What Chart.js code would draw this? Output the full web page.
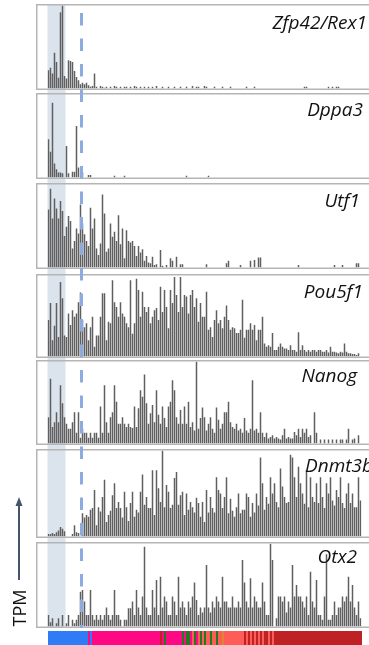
<!DOCTYPE html>
<html>
<head>
<meta charset="utf-8">
<script src="https://cdn.jsdelivr.net/npm/chart.js@4"></script>
<style>
  html, body { margin: 0; padding: 0; background: #fff; }
  #page { position: relative; width: 369px; height: 645px; overflow: hidden; }
  #page canvas { position: absolute; left: 0; }
  #page svg { position: absolute; left: 0; top: 0; }
</style>
</head>
<body>
<div id="page"></div>
<script>
// Marker genes, top to bottom
const genes = ['Zfp42/Rex1', 'Dppa3', 'Utf1', 'Pou5f1', 'Nanog', 'Dnmt3b', 'Otx2'];

// Expression per cell (TPM, scaled to each panel's maximum = 100)
const zfp42 = [
  22,25,18,43,32,13,92,100,15,12,
  34,33,32,21,14,10,5,7,5,7,
  4,2,3,18,2,0,3,2,1,2,
  0,2,0,3,2,0,2,0,2,2,
  0,2,0,3,2,0,2,0,2,0,
  2,0,2,0,3,0,0,2,0,0,
  2,0,0,2,0,0,2,0,0,2,
  0,0,3,0,2,2,0,0,3,2,
  0,0,0,2,0,0,0,2,0,0,
  0,2,0,0,0,0,0,0,0,2,
  0,0,0,2,0,0,0,0,0,0,
  0,0,0,0,0,0,0,0,0,0,
  0,0,0,0,0,0,0,0,2,2,
  0,0,0,0,0,0,0,0,0,0,
  2,0,2,0,2,2,0,0,0,0,
  0,0,0,0,0,0,0
];
const dppa3 = [
  46,31,90,17,10,6,6,5,0,38,
  5,0,7,7,62,12,0,6,0,0,
  3,3,0,0,0,0,0,0,0,0,
  0,0,0,2,0,0,0,0,2,0,
  0,0,0,0,0,0,0,0,0,0,
  0,0,0,0,0,0,0,0,0,0,
  0,0,0,0,0,0,0,0,0,2,
  0,0,0,0,0,0,0,0,0,0,
  2,0,0,0,0,0,0,0,0,0,
  0,0,0,0,0,0,0,0,0,0,
  0,0,0,0,0,0,0,0,0,0,
  0,0,0,0,0,0,0,0,0,0,
  0,0,0,0,0,0,0,0,0,0,
  0,0,0,0,0,0,0,0,0,0,
  0,0,0,0,0,0,0,0,0,0,
  0,0,0,0,0,0,0
];
const utf1 = [
  70,95,59,83,71,59,80,68,38,49,
  62,56,23,32,47,41,76,53,40,32,
  26,72,47,59,23,15,29,88,65,19,
  23,53,37,43,32,63,28,47,11,45,
  32,30,32,26,14,26,18,22,8,14,
  6,5,13,3,4,0,21,2,0,3,
  0,11,8,0,13,0,4,4,0,0,
  0,0,0,0,0,0,0,0,0,4,
  0,0,0,0,0,0,0,0,0,5,
  8,0,0,0,0,0,3,0,0,0,
  0,8,0,9,0,12,12,0,0,0,
  0,0,0,0,0,0,0,0,0,0,
  0,0,0,0,0,3,0,0,0,0,
  0,0,0,0,0,0,0,0,0,0,
  0,0,0,3,0,0,0,3,0,0,
  0,0,0,0,5,5,0
];
const pou5f1 = [
  45,66,20,38,66,24,92,72,26,24,
  53,39,57,49,53,67,79,45,36,41,
  20,36,49,12,26,26,49,78,78,20,
  43,41,94,67,61,49,67,53,49,41,
  36,94,28,41,96,82,49,80,61,55,
  61,41,49,57,60,45,86,55,82,61,
  35,82,66,98,76,55,98,61,76,74,
  53,76,82,61,72,43,66,49,49,80,
  33,36,24,45,57,41,45,35,49,63,
  45,33,36,35,29,29,33,70,23,33,
  33,41,33,39,20,33,33,49,16,12,
  14,12,29,8,8,12,16,12,10,10,
  8,14,8,8,6,30,8,14,8,6,
  8,6,8,8,6,8,8,6,6,8,
  5,12,6,6,5,4,6,5,16,6,
  4,4,3,3,2,4,0
];
const nanog = [
  32,79,20,26,38,26,71,49,32,24,
  18,18,26,38,13,38,7,18,13,13,
  7,13,7,13,13,7,45,13,71,26,
  13,32,38,71,51,24,24,32,24,20,
  24,20,19,45,20,43,65,57,84,49,
  24,37,47,26,65,35,24,45,31,20,
  45,51,77,65,32,24,41,24,45,24,
  51,20,26,16,100,18,31,44,32,16,
  24,32,18,13,44,29,18,24,38,38,
  51,26,20,18,24,16,18,13,31,16,
  13,18,77,16,18,13,38,13,8,13,
  6,8,10,6,8,6,5,10,18,6,
  8,6,6,14,10,18,8,18,13,18,
  8,10,0,38,13,0,5,0,5,0,
  5,0,5,0,5,0,5,5,0,5,
  18,0,5,6,0,10,0
];
const dnmt3b = [
  3,3,4,3,5,7,11,9,6,0,
  0,0,3,13,5,4,0,27,22,25,
  23,31,33,54,13,34,29,46,66,17,
  25,30,48,62,33,40,33,22,52,34,
  18,39,52,23,31,28,52,72,37,46,
  33,33,77,25,77,56,40,100,34,60,
  52,33,37,68,75,37,48,52,25,50,
  31,40,34,28,45,39,23,40,17,54,
  28,46,33,28,69,54,50,33,46,69,
  27,44,30,23,34,50,27,31,31,50,
  46,23,39,28,50,36,92,62,31,46,
  38,69,50,62,40,34,79,58,46,39,
  40,95,92,69,46,81,62,50,38,77,
  34,69,46,40,62,39,69,46,33,62,
  50,69,42,36,54,46,69,39,33,50,
  62,39,50,34,34,69,42
];
const otx2 = [
  14,5,10,0,4,10,0,14,0,4,
  14,0,8,4,8,14,42,44,30,14,
  14,44,14,8,14,8,14,8,14,23,
  14,8,14,44,14,14,8,0,8,8,
  22,22,30,14,44,23,14,36,96,23,
  14,14,44,23,56,14,60,23,36,30,
  14,14,36,30,14,60,23,30,23,14,
  30,23,36,53,32,14,23,17,23,74,
  23,17,30,23,36,30,23,60,30,30,
  23,23,36,23,23,30,23,80,53,30,
  23,58,23,36,30,23,23,53,30,14,
  14,100,80,0,10,36,36,30,36,17,
  30,23,74,36,50,36,36,30,23,36,
  14,66,30,23,56,14,14,8,36,87,
  8,8,14,30,14,23,23,36,30,36,
  60,30,50,23,14,30,10
];

// Cell population of every cell (index into typeColors)
const cellType = [
  0,0,0,0,0,0,0,0,0,0,
  0,0,0,0,0,0,0,0,0,0,
  1,0,1,1,1,1,1,1,1,1,
  1,1,1,1,1,1,1,1,1,1,
  1,1,1,1,1,1,1,1,1,1,
  1,1,1,1,1,1,4,1,2,1,
  1,1,1,1,1,1,1,2,1,2,
  2,1,3,2,1,3,2,3,2,3,
  3,2,3,3,2,3,3,5,3,3,
  3,3,3,3,3,3,3,3,4,3,
  4,3,4,3,4,3,4,3,4,4,
  3,4,3,4,4,4,4,4,4,4,
  4,4,4,4,4,4,4,4,4,4,
  4,4,4,4,4,4,4,4,4,4,
  4,4,4,4,4,4,4,4,4,4,
  4,4,4,4,4,4,4
];
const typeColors = ['#2f7cf6', '#fe0884', '#1f7a22', '#fe5d57', '#bf2225', '#e0862c'];

const series = [zfp42, dppa3, utf1, pou5f1, nanog, dnmt3b, otx2];
const cells = cellType.map((t, i) => 'cell ' + (i + 1));

// Shaded early population spans cells [0, bandEnd); dashed divider sits before cell dashAt
const bandEnd = 9;
const dashAt = 17;

// Page layout (px)
const panelTop = [4, 93, 183, 274, 360, 449, 542];
const panelBottom = [90, 179, 269, 358, 445, 538, 628];
const labelRight = [367, 363, 360, 363, 357, 373, 357];
const labelBase = [29, 116, 207, 298, 382, 472, 563];
const W = 369;
const dashStart = 13, dashOn = 12.5, dashOff = 13;

const page = document.getElementById('page');

const decor = {
  id: 'decor',
  beforeDatasetsDraw(chart, args, o) {
    const ctx = chart.ctx, x = chart.scales.x;
    const half = (x.getPixelForValue(1) - x.getPixelForValue(0)) / 2;
    const x0 = x.getPixelForValue(0) - half;
    const x1 = x.getPixelForValue(bandEnd) - half;
    ctx.save();
    ctx.fillStyle = '#dbe3ec';
    ctx.fillRect(x0, 0, x1 - x0, o.bandBottom);
    ctx.restore();
  },
  afterDatasetsDraw(chart, args, o) {
    const ctx = chart.ctx, x = chart.scales.x;
    ctx.save();
    ctx.strokeStyle = '#b5b5b5';
    ctx.lineWidth = 1.5;
    ctx.strokeRect(36.75, 0.75, 400, o.frameH - 1.5);
    const xm = (x.getPixelForValue(dashAt - 1) + x.getPixelForValue(dashAt)) / 2;
    const y0 = Math.max(0, dashStart - o.top);
    ctx.strokeStyle = '#8eabe0';
    ctx.lineWidth = 3;
    ctx.setLineDash([dashOn, dashOff]);
    ctx.lineDashOffset = (o.top + y0 - dashStart) % (dashOn + dashOff);
    ctx.beginPath();
    ctx.moveTo(xm, y0);
    ctx.lineTo(xm, o.bandBottom);
    ctx.stroke();
    ctx.restore();
  }
};

function makeCanvas(top, h) {
  const c = document.createElement('canvas');
  c.width = W; c.height = h;
  c.style.top = top + 'px';
  c.style.width = W + 'px'; c.style.height = h + 'px';
  page.appendChild(c);
  return c;
}

series.forEach((vals, i) => {
  const top = panelTop[i];
  const frameH = panelBottom[i] - top;
  const last = i === series.length - 1;
  const h = last ? frameH + 2 : panelTop[i + 1] - top;
  const c = makeCanvas(top, h);
  new Chart(c, {
    type: 'bar',
    data: {
      labels: cells,
      datasets: [{
        label: genes[i],
        data: vals,
        backgroundColor: '#5f5f5f',
        borderWidth: 0,
        barPercentage: 0.75,
        categoryPercentage: 1,
        inflateAmount: 0
      }]
    },
    options: {
      responsive: false,
      animation: false,
      events: [],
      layout: { padding: { left: 47.5, right: 7.5, top: 1.5, bottom: h - frameH + 1.5 } },
      plugins: {
        legend: { display: false },
        tooltip: { enabled: false },
        decor: { top: top, frameH: frameH, bandBottom: last ? frameH : h }
      },
      scales: {
        x: { display: false },
        y: { display: false, min: 0, max: 100 }
      }
    },
    plugins: [decor]
  });
});

// Cell population strip
const strip = makeCanvas(631, 14);
new Chart(strip, {
  type: 'bar',
  data: {
    labels: cells,
    datasets: [{
      data: cellType.map(() => 1),
      backgroundColor: cellType.map(t => typeColors[t]),
      borderWidth: 0,
      barPercentage: 1,
      categoryPercentage: 1,
      inflateAmount: 0
    }]
  },
  options: {
    responsive: false,
    animation: false,
    events: [],
    layout: { padding: { left: 48, right: 7, top: 0, bottom: 0 } },
    plugins: { legend: { display: false }, tooltip: { enabled: false } },
    scales: { x: { display: false }, y: { display: false, min: 0, max: 1 } }
  }
});

// Gene names, axis caption and arrow
const NS = 'http://www.w3.org/2000/svg';
const svg = document.createElementNS(NS, 'svg');
svg.setAttribute('width', W);
svg.setAttribute('height', 645);
function el(name, attrs, text) {
  const e = document.createElementNS(NS, name);
  for (const k in attrs) e.setAttribute(k, attrs[k]);
  if (text) e.textContent = text;
  svg.appendChild(e);
  return e;
}
genes.forEach((g, i) => {
  el('text', {
    x: labelRight[i], y: labelBase[i], 'text-anchor': 'end',
    'font-family': 'Open Sans, sans-serif', 'font-style': 'italic',
    'font-size': 19, fill: '#111'
  }, g);
});
el('text', {
  transform: 'translate(26,608) rotate(-90)', 'text-anchor': 'middle',
  'font-family': 'Open Sans, sans-serif', 'font-size': 18, fill: '#111'
}, 'TPM');
el('line', { x1: 19, y1: 504, x2: 19, y2: 580, stroke: '#44546a', 'stroke-width': 2 });
el('polygon', { points: '19,497 15.5,506 22.5,506', fill: '#44546a' });
page.appendChild(svg);
</script>
</body>
</html>
